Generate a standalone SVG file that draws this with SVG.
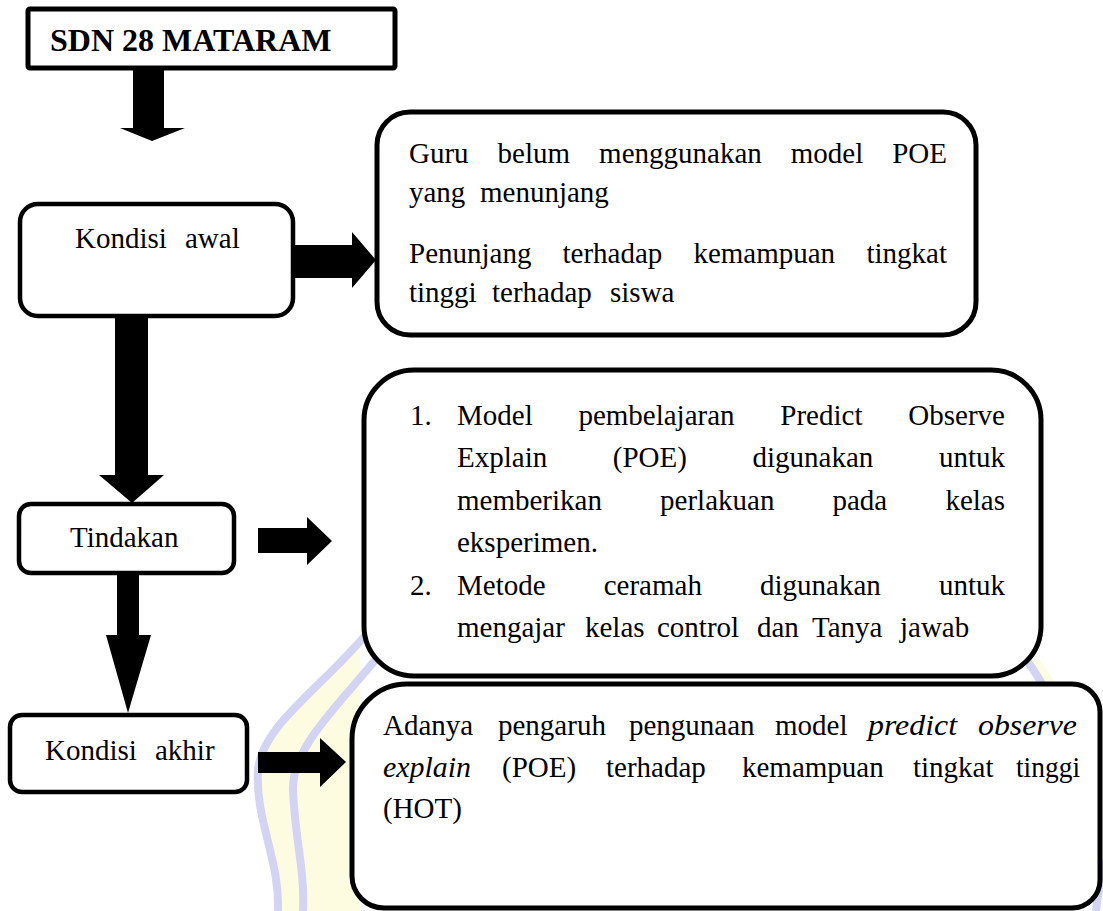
<svg xmlns="http://www.w3.org/2000/svg" width="1103" height="911" viewBox="0 0 1103 911">
<style>
.box{fill:#fff;stroke:#000;stroke-width:5}
.sbox{fill:#fff;stroke:#000;stroke-width:4.5}
.t{font-family:"Liberation Serif","Times New Roman",serif;font-size:29px;fill:#000}
.i{font-style:italic}
.b{font-weight:bold;font-size:32px}
.e{text-anchor:end}
.arr{fill:#000}
.wm{fill:none;stroke:#d3d4f3;stroke-width:8}
</style>
<rect width="1103" height="911" fill="#fff"/>
<g id="watermark">
<path d="M 370 630 C 320 690, 262 725, 258 770 C 255 820, 280 860, 278 911 L 360 911 L 360 630 Z" fill="#fefce0"/>
<path class="wm" d="M 370 630 C 320 690, 262 725, 258 770 C 255 820, 280 860, 278 911"/>
<path class="wm" d="M 385 648 C 340 705, 292 745, 293 790 C 295 840, 305 870, 303 911"/>
<path d="M 1026 660 C 1034 670, 1040 678, 1046 690 L 1060 690 L 1040 660 Z" fill="#fefce0"/>
<path class="wm" d="M 1024 656 C 1032 668, 1040 678, 1046 692"/>
<path class="wm" d="M 1103 860 C 1100 880, 1098 895, 1096 911"/>
</g>
<g id="sdn">
<rect class="box" x="28" y="9" width="367" height="59" rx="2"/>
<text class="t b" x="50" y="51">SDN 28 MATARAM</text>
</g>
<g id="kondisi-awal">
<rect class="sbox" x="20" y="204" width="273" height="112" rx="18"/>
<text class="t" x="75" y="248">Kondisi</text><text class="t" x="185" y="248">awal</text>
</g>
<g id="kondisi-awal-detail">
<rect class="box" x="377" y="112" width="599" height="223" rx="33"/>
<text class="t" x="409" y="163">Guru</text><text class="t" x="497.6" y="163">belum</text><text class="t" x="599.1" y="163">menggunakan</text><text class="t" x="790.8" y="163">model</text><text class="t e" x="947" y="163">POE</text>
<text class="t" x="409" y="202">yang</text><text class="t" x="480" y="202">menunjang</text>
<text class="t" x="409" y="263">Penunjang</text><text class="t" x="562.5" y="263">terhadap</text><text class="t" x="693.4" y="263">kemampuan</text><text class="t e" x="947" y="263">tingkat</text>
<text class="t" x="409" y="302">tinggi</text><text class="t" x="492" y="302">terhadap</text><text class="t" x="610" y="302">siswa</text>
</g>
<g id="tindakan">
<rect class="sbox" x="19" y="504" width="215" height="69" rx="12"/>
<text class="t" x="70" y="547">Tindakan</text>
</g>
<g id="tindakan-detail">
<rect class="box" x="364" y="370" width="677" height="306" rx="50"/>
<text class="t" x="410" y="425">1.</text><text class="t" x="457" y="425">Model</text><text class="t" x="578.4" y="425">pembelajaran</text><text class="t" x="780.3" y="425">Predict</text><text class="t e" x="1005" y="425">Observe</text>
<text class="t" x="457" y="467">Explain</text><text class="t" x="612.8" y="467">(POE)</text><text class="t" x="752.5" y="467">digunakan</text><text class="t e" x="1005" y="467">untuk</text>
<text class="t" x="457" y="510">memberikan</text><text class="t" x="660.1" y="510">perlakuan</text><text class="t" x="832.5" y="510">pada</text><text class="t e" x="1005" y="510">kelas</text>
<text class="t" x="457" y="552">eksperimen.</text>
<text class="t" x="410" y="595">2.</text><text class="t" x="457" y="595">Metode</text><text class="t" x="603.7" y="595">ceramah</text><text class="t" x="760" y="595">digunakan</text><text class="t e" x="1005" y="595">untuk</text>
<text class="t" x="457" y="637">mengajar</text><text class="t" x="585" y="637">kelas</text><text class="t" x="657" y="637">control</text><text class="t" x="757" y="637">dan</text><text class="t" x="812" y="637">Tanya</text><text class="t" x="900" y="637">jawab</text>
</g>
<g id="kondisi-akhir">
<rect class="sbox" x="10" y="715" width="237" height="77" rx="12"/>
<text class="t" x="45" y="760">Kondisi</text><text class="t" x="155" y="760">akhir</text>
</g>
<g id="kondisi-akhir-detail">
<path class="box" d="M 407 684 H 1072 A 28 28 0 0 1 1100 712 V 880 A 28 28 0 0 1 1072 908 H 384 A 32 32 0 0 1 352 876 V 739 A 55 55 0 0 1 407 684 Z"/>
<text class="t" x="383" y="735">Adanya</text><text class="t" x="498" y="735">pengaruh</text><text class="t" x="629" y="735">pengunaan</text><text class="t" x="775" y="735">model</text><text class="t i" x="868" y="735" textLength="89" lengthAdjust="spacingAndGlyphs">predict</text><text class="t i" x="978" y="735" textLength="99" lengthAdjust="spacingAndGlyphs">observe</text>
<text class="t i" x="383" y="777" textLength="88" lengthAdjust="spacingAndGlyphs">explain</text><text class="t" x="502" y="777">(POE)</text><text class="t" x="606" y="777">terhadap</text><text class="t" x="742" y="777">kemampuan</text><text class="t" x="913" y="777">tingkat</text><text class="t" x="1016" y="777" textLength="64" lengthAdjust="spacingAndGlyphs">tinggi</text>
<text class="t" x="383" y="818">(HOT)</text>
</g>
<g id="connectors">
<polygon class="arr" points="133,68 164,68 164,128 185,128 152,141 120,128 133,128"/>
<polygon class="arr" points="292,245 352,245 352,232 376,260 352,288 352,278 292,278"/>
<polygon class="arr" points="115,316 148,316 148,475 164,475 132,503 99,475 115,475"/>
<polygon class="arr" points="258,528 307,528 307,517 332,541 307,565 307,553 258,553"/>
<polygon class="arr" points="117,573 139,573 139,635 151,635 128,713 106,635 117,635"/>
<polygon class="arr" points="258,752 320,752 320,738 346,762 320,787 320,773 258,773"/>
</g>
</svg>
